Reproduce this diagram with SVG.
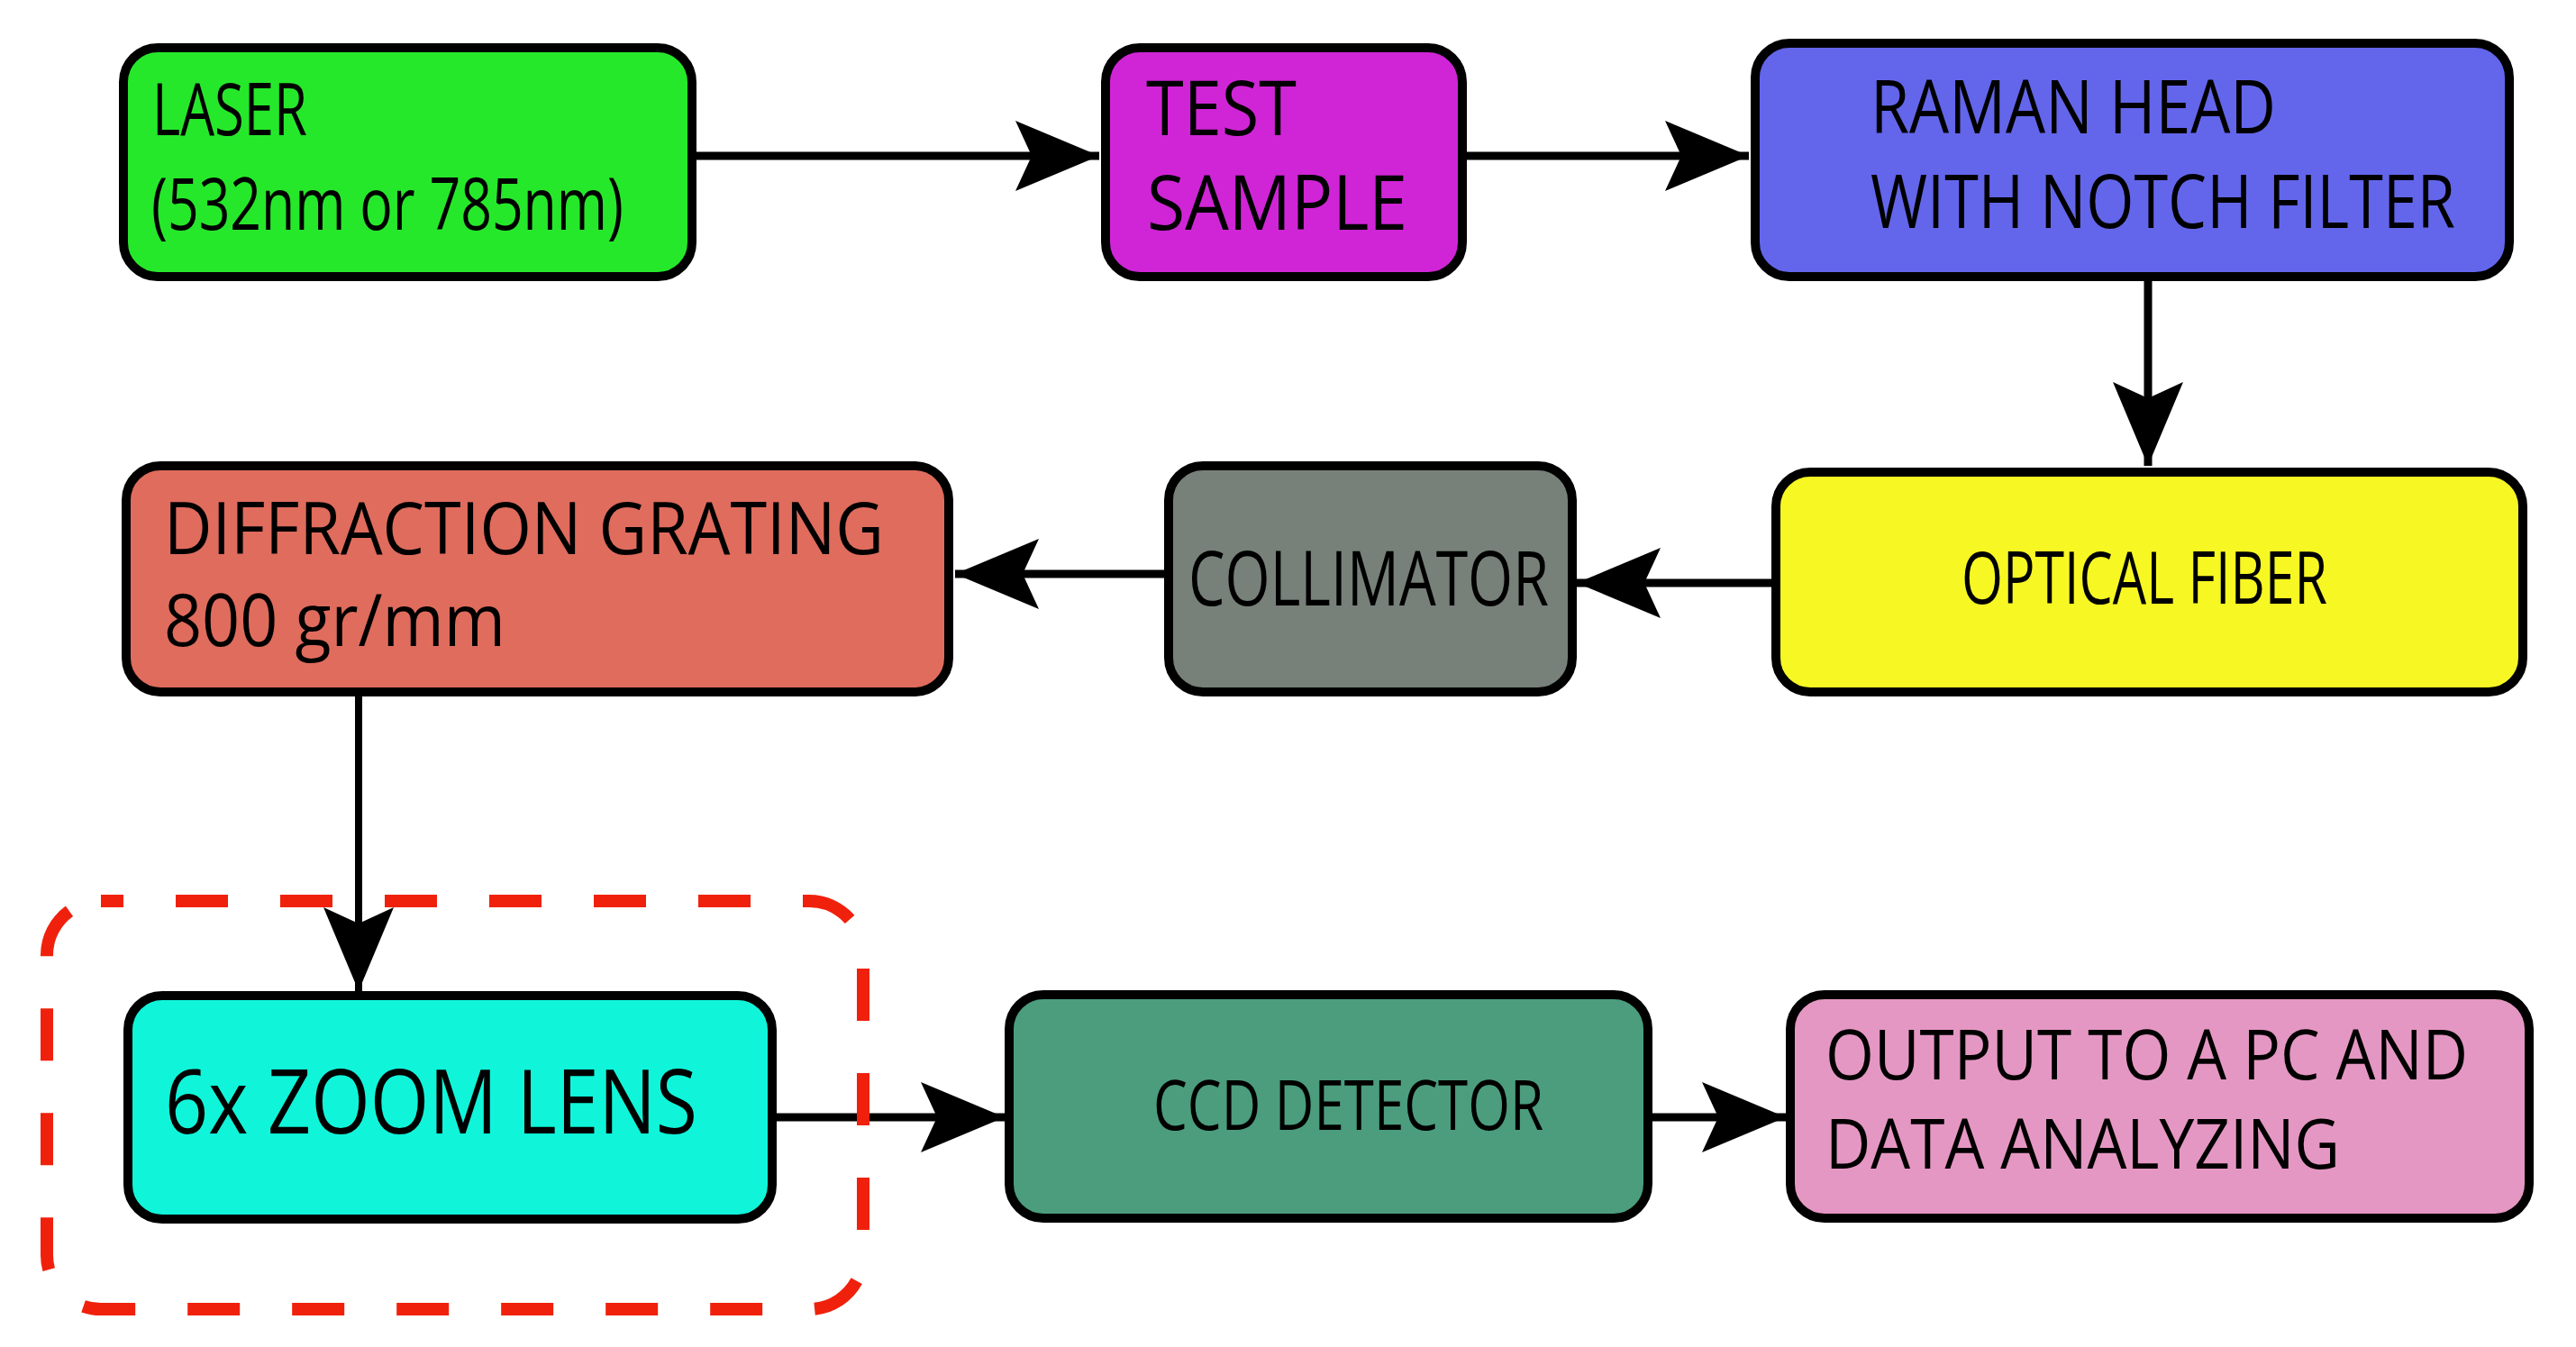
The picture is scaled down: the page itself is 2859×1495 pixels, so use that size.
<svg xmlns="http://www.w3.org/2000/svg" width="2859" height="1495" viewBox="0 0 2859 1495">
<style>
.box{stroke:#000;stroke-width:10}
.t{font-family:"Open Sans","Liberation Sans",sans-serif;fill:#000}
.c{fill:none;stroke:#000;stroke-width:9;marker-end:url(#ah)}
</style>
<defs>
<marker id="ah" markerUnits="userSpaceOnUse" viewBox="-100 -45 104 90" refX="0" refY="0" markerWidth="104" markerHeight="90" orient="auto" overflow="visible">
<path d="M0,0 L-93,-39 L-75,0 L-93,39 Z" fill="#000"/>
</marker>
</defs>
<rect width="2859" height="1495" fill="#fff"/>
<g id="connectors">
<path class="c" d="M773,173 H1220"/>
<path class="c" d="M1628,173 H1941"/>
<path class="c" d="M2384,312 V517"/>
<path class="c" d="M1966,647 H1750"/>
<path class="c" d="M1292,637 H1060"/>
<path class="c" d="M398,773 V1100" style="stroke-width:8"/>
<path class="c" d="M862,1240 H1115"/>
<path class="c" d="M1834,1240 H1982"/>
</g>
<g id="zoom-group">
<rect x="52" y="1000" width="906" height="453" rx="60" fill="none" stroke="#F0210C" stroke-width="14" stroke-dasharray="58 58" stroke-dashoffset="33"/>
</g>
<g id="laser">
<rect class="box" x="137" y="53" width="631" height="254" rx="38" fill="#26E82B"/>
<text class="t" x="169" y="150" font-size="81" textLength="172" lengthAdjust="spacingAndGlyphs">LASER</text>
<text class="t" x="168" y="255" font-size="81" textLength="524" lengthAdjust="spacingAndGlyphs">(532nm or 785nm)</text>
</g>
<g id="test-sample">
<rect class="box" x="1227" y="53" width="396" height="254" rx="38" fill="#D025D6"/>
<text class="t" x="1272" y="150" font-size="84" textLength="167" lengthAdjust="spacingAndGlyphs">TEST</text>
<text class="t" x="1273" y="255" font-size="84" textLength="289" lengthAdjust="spacingAndGlyphs">SAMPLE</text>
</g>
<g id="raman-head">
<rect class="box" x="1948" y="48" width="837" height="259" rx="38" fill="#6366EB"/>
<text class="t" x="2076" y="148" font-size="83" textLength="450" lengthAdjust="spacingAndGlyphs">RAMAN HEAD</text>
<text class="t" x="2076" y="253" font-size="83" textLength="649" lengthAdjust="spacingAndGlyphs">WITH NOTCH FILTER</text>
</g>
<g id="diffraction-grating">
<rect class="box" x="140" y="517" width="913" height="251" rx="38" fill="#E06C5D"/>
<text class="t" x="182" y="615" font-size="81" textLength="799" lengthAdjust="spacingAndGlyphs">DIFFRACTION GRATING</text>
<text class="t" x="182" y="717" font-size="81" textLength="379" lengthAdjust="spacingAndGlyphs">800 gr/mm</text>
</g>
<g id="collimator">
<rect class="box" x="1297" y="517" width="448" height="251" rx="38" fill="#778079"/>
<text class="t" x="1319" y="672" font-size="84" textLength="400" lengthAdjust="spacingAndGlyphs">COLLIMATOR</text>
</g>
<g id="optical-fiber">
<rect class="box" x="1971" y="524" width="829" height="244" rx="38" fill="#F7F724"/>
<text class="t" x="2177" y="670" font-size="81" textLength="406" lengthAdjust="spacingAndGlyphs">OPTICAL FIBER</text>
</g>
<g id="zoom-lens">
<rect class="box" x="142" y="1105" width="715" height="248" rx="38" fill="#10F5DA"/>
<text class="t" x="183" y="1258" font-size="99" textLength="591" lengthAdjust="spacingAndGlyphs">6x ZOOM LENS</text>
</g>
<g id="ccd-detector">
<rect class="box" x="1120" y="1104" width="709" height="248" rx="38" fill="#4B9D7D"/>
<text class="t" x="1280" y="1254" font-size="76" textLength="433" lengthAdjust="spacingAndGlyphs">CCD DETECTOR</text>
</g>
<g id="output">
<rect class="box" x="1987" y="1104" width="820" height="248" rx="38" fill="#E597C3"/>
<text class="t" x="2026" y="1198" font-size="77" textLength="713" lengthAdjust="spacingAndGlyphs">OUTPUT TO A PC AND</text>
<text class="t" x="2026" y="1297" font-size="77" textLength="571" lengthAdjust="spacingAndGlyphs">DATA ANALYZING</text>
</g>
</svg>
